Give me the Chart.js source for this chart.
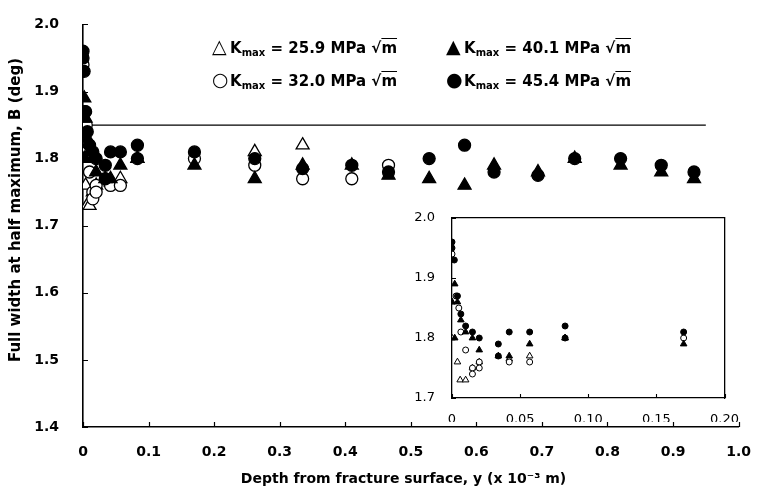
<!DOCTYPE html>
<html>
<head>
<meta charset="utf-8">
<script src="https://cdn.jsdelivr.net/npm/chart.js@4.4.1/dist/chart.umd.min.js"></script>
<style>
  body { margin: 0; background: #fff; }
  #wrap { position: relative; width: 760px; height: 490px; }
  #main { position: absolute; left: 0; top: 0; }
  #inset { position: absolute; left: 400px; top: 200px; }
  .leg { position: absolute; font: bold 15px "DejaVu Sans", sans-serif; line-height: 22px; color: #000; white-space: nowrap; }
  .leg .sym { display: inline-block; width: 18px; font-size: 19px; }
  .leg sub { font-size: 10px; vertical-align: -3px; }
  .leg .ov { text-decoration: overline; }
</style>
</head>
<body>
<div id="wrap">
  <canvas id="main" width="760" height="490"></canvas>
  <canvas id="inset" width="345" height="222"></canvas>
  <div class="leg" style="left:212px;top:35px"><span class="sym">△</span>K<sub>max</sub> = 25.9 MPa √<span class="ov">m</span></div>
  <div class="leg" style="left:212px;top:68px"><span class="sym">○</span>K<sub>max</sub> = 32.0 MPa √<span class="ov">m</span></div>
  <div class="leg" style="left:446px;top:35px"><span class="sym">▲</span>K<sub>max</sub> = 40.1 MPa √<span class="ov">m</span></div>
  <div class="leg" style="left:446px;top:68px"><span class="sym">●</span>K<sub>max</sub> = 45.4 MPa √<span class="ov">m</span></div>
</div>
<script>
// Kmax = 25.9 MPa sqrt(m), open triangles
const depth259 = [0, 0, 0.004, 0.006, 0.010, 0.015, 0.020, 0.042, 0.057, 0.083, 0.262, 0.335];
const fwhm259  = [1.86, 1.80, 1.76, 1.73, 1.73, 1.75, 1.76, 1.765, 1.77, 1.80, 1.81, 1.82];

// Kmax = 32.0, open circles
const depth320 = [0, 0.003, 0.005, 0.0065, 0.010, 0.015, 0.015, 0.020, 0.020, 0.042, 0.057, 0.17, 0.262, 0.335, 0.41, 0.466];
const fwhm320  = [1.94, 1.87, 1.85, 1.81, 1.78, 1.75, 1.74, 1.76, 1.75, 1.76, 1.76, 1.80, 1.79, 1.77, 1.77, 1.79];

// Kmax = 40.1, filled triangles
const depth401 = [0, 0.002, 0.002, 0.004, 0.0065, 0.010, 0.015, 0.020, 0.034, 0.042, 0.057, 0.083, 0.17, 0.262, 0.335, 0.41, 0.466, 0.528, 0.582, 0.627, 0.694, 0.75, 0.82, 0.882, 0.932];
const fwhm401  = [1.86, 1.89, 1.80, 1.86, 1.83, 1.81, 1.80, 1.78, 1.77, 1.77, 1.79, 1.80, 1.79, 1.77, 1.79, 1.79, 1.775, 1.77, 1.76, 1.79, 1.78, 1.80, 1.79, 1.78, 1.77];

// Kmax = 45.4, filled circles
const depth454 = [0, 0, 0.0017, 0.004, 0.0065, 0.010, 0.015, 0.020, 0.034, 0.034, 0.042, 0.057, 0.083, 0.083, 0.17, 0.262, 0.335, 0.41, 0.466, 0.528, 0.582, 0.627, 0.694, 0.75, 0.82, 0.882, 0.932];
const fwhm454  = [1.96, 1.95, 1.93, 1.87, 1.84, 1.82, 1.81, 1.80, 1.79, 1.77, 1.81, 1.81, 1.82, 1.80, 1.81, 1.80, 1.785, 1.79, 1.78, 1.80, 1.82, 1.78, 1.775, 1.80, 1.80, 1.79, 1.78];

// horizontal reference line
const refX = [0, 0.95];
const refY = [1.85, 1.85];

const mainXTicks = [0, 0.1, 0.2, 0.3, 0.4, 0.5, 0.6, 0.7, 0.8, 0.9, 1.0];
const insetXTicks = [0, 0.05, 0.10, 0.15, 0.20];

function pts(xs, ys, maxX) {
  const out = [];
  xs.forEach((x, i) => { if (maxX === undefined || x <= maxX) out.push({ x: x, y: ys[i] }); });
  return out;
}

// short tick marks drawn inside the plot
function inwardTicks(len, width) {
  return {
    id: 'inwardTicks',
    afterDraw(chart) {
      const { ctx, chartArea: a, scales: { x, y } } = chart;
      ctx.save();
      ctx.strokeStyle = '#000';
      ctx.lineWidth = width;
      ctx.beginPath();
      x.ticks.forEach(t => {
        const px = Math.round(x.getPixelForValue(t.value)) + 0.5;
        ctx.moveTo(px, a.bottom);
        ctx.lineTo(px, a.bottom - len);
      });
      y.ticks.forEach(t => {
        const py = Math.round(y.getPixelForValue(t.value)) + 0.5;
        ctx.moveTo(a.left, py);
        ctx.lineTo(a.left + len, py);
      });
      ctx.stroke();
      ctx.restore();
    }
  };
}

function makeSets(maxX, big) {
  const rc = big ? 6 : 3;
  const rt = big ? 7.5 : 3.8;
  const bw = big ? 1.3 : 1;
  return [
    { label: 'Kmax = 45.4', data: pts(depth454, fwhm454, maxX), pointStyle: 'circle', radius: rc,
      backgroundColor: '#000', borderColor: '#000', borderWidth: bw },
    { label: 'Kmax = 40.1', data: pts(depth401, fwhm401, maxX), pointStyle: 'triangle', radius: rt,
      backgroundColor: '#000', borderColor: '#000', borderWidth: bw },
    { label: 'Kmax = 32.0', data: pts(depth320, fwhm320, maxX), pointStyle: 'circle', radius: rc,
      backgroundColor: '#fff', borderColor: '#000', borderWidth: bw },
    { label: 'Kmax = 25.9', data: pts(depth259, fwhm259, maxX), pointStyle: 'triangle', radius: rt,
      backgroundColor: '#fff', borderColor: '#000', borderWidth: bw }
  ];
}

const mainSets = makeSets(undefined, true);
mainSets.push({
  type: 'line', label: 'ref', data: pts(refX, refY), showLine: true,
  borderColor: '#000', borderWidth: 1.3, pointRadius: 0, fill: false
});

const tickFont = { family: 'DejaVu Sans', size: 14, weight: 'bold' };

new Chart(document.getElementById('main'), {
  type: 'scatter',
  data: { datasets: mainSets },
  options: {
    responsive: false,
    animation: false,
    layout: { padding: { top: 15, right: 14, left: 0, bottom: 0 } },
    plugins: { legend: { display: false }, tooltip: { enabled: false } },
    scales: {
      x: {
        type: 'linear', min: 0, max: 1,
        afterBuildTicks: s => { s.ticks = mainXTicks.map(v => ({ value: v })); },
        afterFit: s => { s.height = 63; },
        grid: { display: false },
        border: { color: '#000', width: 1.6 },
        ticks: {
          color: '#000', padding: 9, maxRotation: 0,
          font: tickFont,
          callback: v => v === 0 ? '0' : v.toFixed(1)
        },
        title: {
          display: true, text: 'Depth from fracture surface, y (x 10\u207B\u00B3 m)   ',
          color: '#000', padding: { bottom: 2 },
          font: { family: 'DejaVu Sans', size: 14, weight: 'bold' }
        }
      },
      y: {
        min: 1.4, max: 2.0,
        ticks: {
          stepSize: 0.1, color: '#000', padding: 16,
          font: tickFont,
          callback: v => v.toFixed(1)
        },
        afterFit: s => { s.width = 83; },
        grid: { display: false },
        border: { color: '#000', width: 1.6 },
        title: {
          display: true, text: '      Full width at half maximum, B (deg)',
          color: '#000', padding: { top: 7 },
          font: { family: 'DejaVu Sans', size: 15, weight: 'bold' }
        }
      }
    }
  },
  plugins: [inwardTicks(5, 1.2)]
});

const insetFont = { family: 'DejaVu Sans', size: 13 };
const frame = { color: '#000', width: 1.3 };

new Chart(document.getElementById('inset'), {
  type: 'scatter',
  data: { datasets: makeSets(0.2, false) },
  options: {
    responsive: false,
    animation: false,
    layout: { padding: { top: 18, right: 17, left: 0, bottom: 0 } },
    plugins: { legend: { display: false }, tooltip: { enabled: false } },
    scales: {
      x: {
        type: 'linear', min: 0, max: 0.2,
        afterBuildTicks: s => { s.ticks = insetXTicks.map(v => ({ value: v })); },
        afterFit: s => { s.height = 24; },
        grid: { display: false },
        border: frame,
        ticks: {
          color: '#000', padding: 6, maxRotation: 0,
          font: insetFont,
          callback: v => v === 0 ? '0' : v.toFixed(2)
        }
      },
      y: {
        min: 1.7, max: 2.0,
        ticks: {
          stepSize: 0.1, color: '#000', padding: 9,
          font: insetFont,
          callback: v => v.toFixed(1)
        },
        afterFit: s => { s.width = 52; },
        grid: { display: false },
        border: frame
      },
      xTop: {
        type: 'linear', position: 'top', min: 0, max: 0.2,
        ticks: { display: false }, grid: { display: false, drawTicks: false },
        afterFit: s => { s.height = 0; },
        border: frame
      },
      yRight: {
        type: 'linear', position: 'right', min: 1.7, max: 2.0,
        ticks: { display: false }, grid: { display: false, drawTicks: false },
        afterFit: s => { s.width = 0; },
        border: frame
      }
    }
  },
  plugins: [inwardTicks(4, 1.1)]
});
</script>
</body>
</html>
